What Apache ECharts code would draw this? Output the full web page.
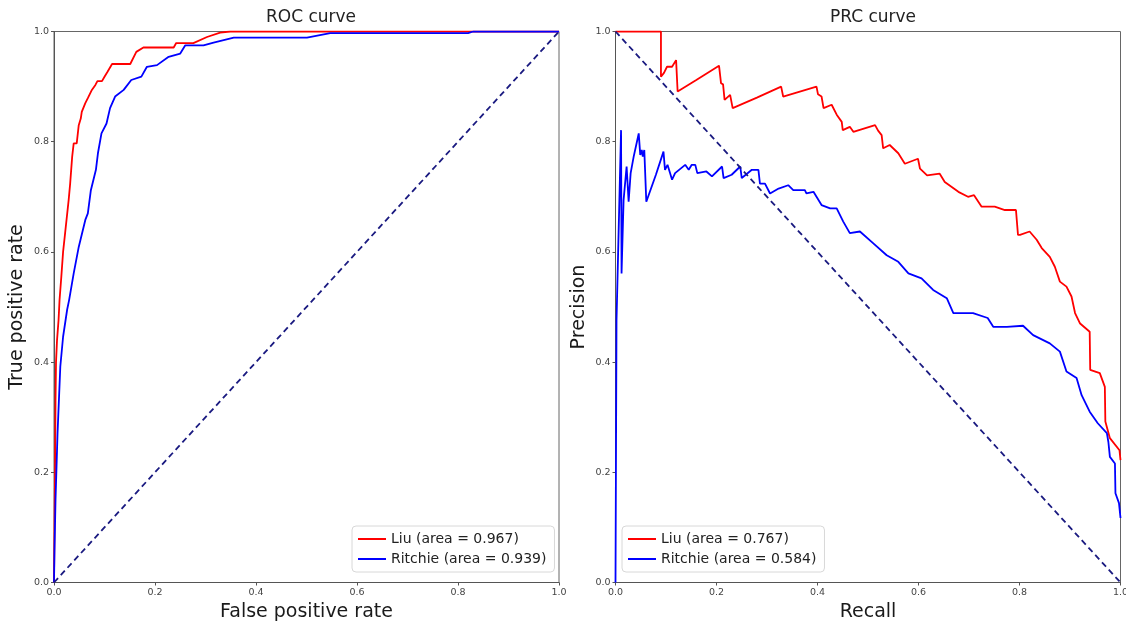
<!DOCTYPE html>
<html>
<head>
<meta charset="utf-8">
<script src="https://cdn.jsdelivr.net/npm/echarts@6/dist/echarts.min.js"></script>
<style>
html, body { margin: 0; padding: 0; background: #fff; }
#main { width: 1126px; height: 627px; }
</style>
</head>
<body>
<div id="main"></div>
<script>
var tickValues = [0, 0.2, 0.4, 0.6, 0.8, 1.0];
var panelTitles = ['ROC curve', 'PRC curve'];
var xNames = ['False positive rate', 'Recall'];
var yNames = ['True positive rate', 'Precision'];
var rocNames = ['Liu (area = 0.967)', 'Ritchie (area = 0.939)'];
var prcNames = ['Liu (area = 0.767)', 'Ritchie (area = 0.584)'];

// [fpr, tpr]
var rocLiu = [[0,0],[0.001,0.1],[0.002,0.2],[0.003,0.33],[0.004,0.40],[0.006,0.44],[0.009,0.476],[0.011,0.513],
  [0.0145,0.555],[0.018,0.60],[0.022,0.634],[0.029,0.694],[0.032,0.724],[0.036,0.773],[0.039,0.797],[0.045,0.797],
  [0.047,0.80],[0.049,0.83],[0.053,0.842],[0.055,0.854],[0.062,0.870],[0.067,0.879],[0.075,0.894],[0.082,0.903],
  [0.086,0.910],[0.095,0.910],[0.10,0.918],[0.106,0.927],[0.115,0.941],[0.151,0.941],[0.163,0.963],[0.177,0.971],
  [0.237,0.971],[0.242,0.979],[0.276,0.979],[0.303,0.990],[0.329,0.998],[0.349,1.0],[1,1]];
var rocRitchie = [[0,0],[0.001,0.059],[0.003,0.15],[0.007,0.271],[0.0125,0.392],[0.018,0.446],[0.026,0.495],[0.03,0.513],
  [0.039,0.561],[0.049,0.609],[0.062,0.658],[0.067,0.670],[0.073,0.712],[0.083,0.749],[0.087,0.779],[0.094,0.815],
  [0.104,0.833],[0.111,0.861],[0.121,0.882],[0.138,0.894],[0.153,0.912],[0.173,0.918],[0.184,0.936],[0.204,0.939],
  [0.227,0.954],[0.25,0.96],[0.26,0.975],[0.296,0.975],[0.316,0.98],[0.356,0.989],[0.501,0.989],[0.547,0.997],
  [0.82,0.997],[0.83,1.0],[1,1]];

// [recall, precision]
var prcLiu = [[0,1.0],[0.082,1.0],[0.090,1.0],[0.090,0.918],[0.096,0.925],[0.102,0.936],[0.112,0.936],[0.120,0.948],
  [0.123,0.891],[0.16,0.912],[0.205,0.938],[0.209,0.906],[0.213,0.904],[0.216,0.876],[0.227,0.885],[0.232,0.861],
  [0.28,0.88],[0.328,0.9],[0.332,0.882],[0.398,0.9],[0.401,0.886],[0.408,0.882],[0.412,0.861],[0.428,0.867],
  [0.438,0.849],[0.448,0.836],[0.45,0.821],[0.464,0.827],[0.471,0.818],[0.514,0.830],[0.52,0.82],[0.527,0.812],
  [0.530,0.788],[0.543,0.794],[0.560,0.779],[0.573,0.760],[0.599,0.769],[0.603,0.751],[0.617,0.739],[0.642,0.742],
  [0.652,0.727],[0.679,0.709],[0.698,0.700],[0.71,0.703],[0.725,0.682],[0.751,0.682],[0.771,0.676],[0.793,0.676],
  [0.797,0.631],[0.801,0.631],[0.82,0.637],[0.834,0.622],[0.844,0.607],[0.860,0.591],[0.870,0.573],[0.880,0.546],
  [0.893,0.537],[0.903,0.519],[0.910,0.489],[0.920,0.470],[0.939,0.455],[0.940,0.386],[0.959,0.38],[0.969,0.355],
  [0.970,0.292],[0.979,0.262],[0.998,0.240],[1.0,0.222]];
var prcRitchie = [[0,0],[0.002,0.476],[0.011,0.821],[0.012,0.561],[0.016,0.694],[0.022,0.755],[0.026,0.691],[0.030,0.743],
  [0.036,0.773],[0.046,0.815],[0.049,0.776],[0.052,0.785],[0.054,0.773],[0.057,0.785],[0.061,0.691],[0.08,0.74],
  [0.095,0.782],[0.098,0.749],[0.103,0.758],[0.108,0.743],[0.112,0.731],[0.118,0.743],[0.138,0.758],[0.145,0.749],
  [0.151,0.758],[0.158,0.758],[0.162,0.743],[0.18,0.746],[0.191,0.737],[0.211,0.755],[0.214,0.734],[0.23,0.740],
  [0.247,0.755],[0.250,0.734],[0.27,0.749],[0.283,0.749],[0.286,0.724],[0.296,0.724],[0.306,0.706],[0.323,0.715],
  [0.342,0.721],[0.352,0.712],[0.375,0.712],[0.378,0.706],[0.392,0.709],[0.408,0.685],[0.425,0.679],[0.438,0.679],
  [0.451,0.655],[0.464,0.634],[0.484,0.637],[0.510,0.616],[0.537,0.594],[0.560,0.582],[0.580,0.561],[0.606,0.552],
  [0.629,0.531],[0.656,0.516],[0.669,0.489],[0.708,0.489],[0.737,0.480],[0.748,0.464],[0.775,0.464],[0.807,0.466],
  [0.827,0.449],[0.860,0.434],[0.880,0.419],[0.893,0.383],[0.913,0.371],[0.923,0.340],[0.939,0.310],[0.955,0.289],
  [0.973,0.271],[0.976,0.255],[0.979,0.228],[0.989,0.216],[0.990,0.162],[0.997,0.144],[1.0,0.117]];

var rocChance = [[0,0],[1,1]];
var prcChance = [[0,1],[1,0]];

var FONT = 'DejaVu Sans';
var myChart = echarts.init(document.getElementById('main'));

function makeAxis(idx, name, isY) {
    return {
        type: 'value',
        gridIndex: idx,
        min: 0, max: 1, interval: 0.2,
        name: name,
        nameLocation: 'middle',
        nameGap: isY ? 27 : 13,
        nameTextStyle: { fontFamily: FONT, fontSize: 19, color: '#1a1a1a' },
        axisLine: { show: true, lineStyle: { color: '#555', width: 1 } },
        axisTick: { show: true, length: 3, lineStyle: { color: '#555' } },
        axisLabel: {
            fontFamily: FONT, fontSize: 9.5, color: '#444', margin: 5,
            formatter: function (v) { return v.toFixed(1); }
        },
        splitLine: { show: false }
    };
}

function curve(name, data, color, idx) {
    return {
        name: name, type: 'line', data: data,
        xAxisIndex: idx, yAxisIndex: idx,
        showSymbol: false, symbol: 'none',
        lineStyle: { color: color, width: 1.8 },
        itemStyle: { color: color },
        z: 2
    };
}

function chance(data, idx) {
    return {
        name: 'chance' + idx, type: 'line', data: data,
        xAxisIndex: idx, yAxisIndex: idx,
        showSymbol: false, symbol: 'none',
        lineStyle: { color: '#1a1a80', width: 1.8, type: [6, 4] },
        z: 3
    };
}

function legendBox(names, left) {
    return {
        data: names,
        orient: 'vertical',
        left: left, top: 526,
        backgroundColor: '#fff',
        borderColor: '#d8d8d8', borderWidth: 1, borderRadius: 4,
        padding: [6, 8, 6, 6],
        itemGap: 6,
        icon: 'rect',
        itemWidth: 28, itemHeight: 2,
        textStyle: { fontFamily: FONT, fontSize: 14, color: '#222' }
    };
}

var option = {
    animation: false,
    backgroundColor: '#fff',
    title: [
        { text: panelTitles[0], left: 306, top: 4, textAlign: 'center',
          textStyle: { fontFamily: FONT, fontSize: 17, fontWeight: 'normal', color: '#222' } },
        { text: panelTitles[1], left: 868, top: 4, textAlign: 'center',
          textStyle: { fontFamily: FONT, fontSize: 17, fontWeight: 'normal', color: '#222' } }
    ],
    grid: [
        { left: 54, top: 31.5, width: 505, height: 551, show: true, borderColor: '#666', borderWidth: 1,
          backgroundColor: 'transparent', outerBoundsMode: 'none', containLabel: false },
        { left: 615.5, top: 31.5, width: 505, height: 551, show: true, borderColor: '#666', borderWidth: 1,
          backgroundColor: 'transparent', outerBoundsMode: 'none', containLabel: false }
    ],
    xAxis: [makeAxis(0, xNames[0], false), makeAxis(1, xNames[1], false)],
    yAxis: [makeAxis(0, yNames[0], true), makeAxis(1, yNames[1], true)],
    legend: [legendBox(rocNames, 352), legendBox(prcNames, 622)],
    series: [
        curve(rocNames[0], rocLiu, '#ff0000', 0),
        curve(rocNames[1], rocRitchie, '#0000ff', 0),
        chance(rocChance, 0),
        curve(prcNames[0], prcLiu, '#ff0000', 1),
        curve(prcNames[1], prcRitchie, '#0000ff', 1),
        chance(prcChance, 1)
    ]
};
myChart.setOption(option);
</script>
</body>
</html>
